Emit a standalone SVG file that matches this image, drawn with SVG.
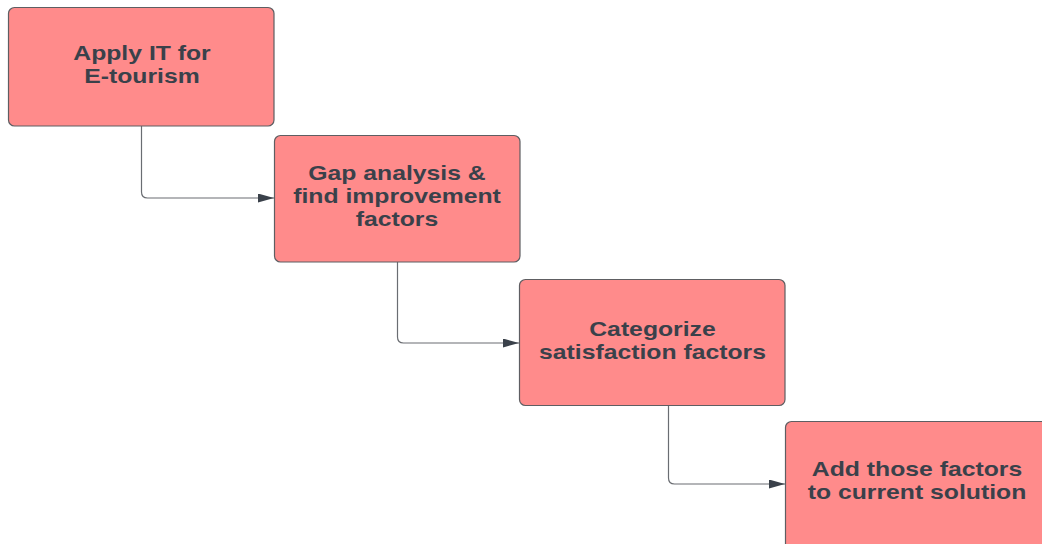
<svg xmlns="http://www.w3.org/2000/svg" width="1042" height="544" viewBox="0 0 1042 544">
<style>
.box{fill:#ff8b8b;stroke:#5e5e62;stroke-width:1.2}
.lbl{font-family:"Liberation Sans",Arial,sans-serif;font-weight:bold;font-size:19.5px;fill:#3a414a;text-anchor:middle}
.conn{fill:none;stroke:#6a6d72;stroke-width:1.2}
</style>
<defs>
<marker id="arr" markerWidth="16" markerHeight="9" refX="16" refY="4.5" orient="auto" markerUnits="userSpaceOnUse">
<path d="M0,0 L16,4.5 L0,9 Z" fill="#3a414a"/>
</marker>
</defs>
<rect width="1042" height="544" fill="#ffffff"/>
<g id="connectors">
<path class="conn" d="M141.5,126 V192 Q141.5,198 147.5,198 H274" marker-end="url(#arr)"/>
<path class="conn" d="M397.5,262 V337 Q397.5,343 403.5,343 H519" marker-end="url(#arr)"/>
<path class="conn" d="M668.5,406 V478 Q668.5,484 674.5,484 H785" marker-end="url(#arr)"/>
</g>
<g id="node1">
<rect class="box" x="8.5" y="7.5" width="265.5" height="118.5" rx="6"/>
<text class="lbl" transform="translate(142,60) scale(1.27,1)">Apply IT for</text>
<text class="lbl" transform="translate(142,83) scale(1.27,1)">E-tourism</text>
</g>
<g id="node2">
<rect class="box" x="274.5" y="135.5" width="245.5" height="126.5" rx="6"/>
<text class="lbl" transform="translate(397,180) scale(1.27,1)">Gap analysis &amp;</text>
<text class="lbl" transform="translate(397,203) scale(1.27,1)">find improvement</text>
<text class="lbl" transform="translate(397,226) scale(1.27,1)">factors</text>
</g>
<g id="node3">
<rect class="box" x="519.5" y="279.5" width="265.5" height="126" rx="6"/>
<text class="lbl" transform="translate(652.5,336) scale(1.27,1)">Categorize</text>
<text class="lbl" transform="translate(652.5,359) scale(1.27,1)">satisfaction factors</text>
</g>
<g id="node4">
<rect class="box" x="785.5" y="421.5" width="270" height="140" rx="6"/>
<text class="lbl" transform="translate(917,476) scale(1.27,1)">Add those factors</text>
<text class="lbl" transform="translate(917,499) scale(1.27,1)">to current solution</text>
</g>
</svg>
